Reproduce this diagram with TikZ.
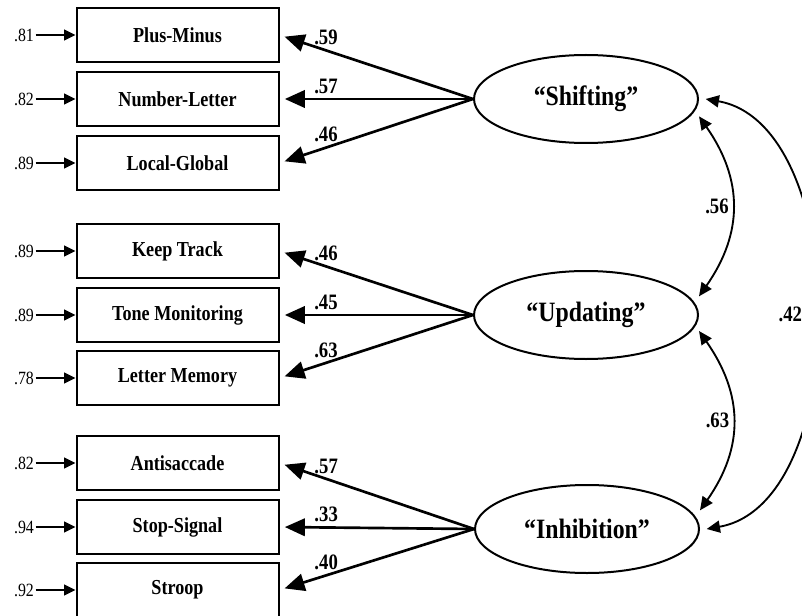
\documentclass[tikz,border=0pt]{standalone}
\usepackage{fontspec}
\setmainfont{Liberation Serif}[FakeStretch=0.85]
\usetikzlibrary{arrows.meta,shapes.geometric}

\begin{document}
\begin{tikzpicture}[x=0.75pt,y=0.75pt,
		task/.style={draw,line width=1.5pt,minimum width=151.5pt,minimum height=40.5pt,font=\fontsize{16}{19}\selectfont\bfseries},
		factor/.style={draw,ellipse,line width=1.5pt,minimum width=168pt,minimum height=66pt,font=\fontsize{21}{24}\selectfont\bfseries},
		errlabel/.style={inner sep=1pt,font=\fontsize{14}{16}\selectfont},
		coef/.style={inner sep=1pt,font=\fontsize{16.5}{19}\selectfont\bfseries},
		errarrow/.style={line width=1.5pt,-{Triangle[length=8.5pt,width=8pt]}},
		loading/.style={line width=2pt,-{Triangle[length=15pt,width=13pt]},shorten >=4pt},
		corr/.style={line width=1.4pt,{Triangle[length=10pt,width=9pt]}-{Triangle[length=10pt,width=9pt]}}]
		\useasboundingbox (0,0) rectangle (802,615);
		
		% latent factors
		\node[factor] (shift) at (586,516) {“Shifting”};
		\node[factor] (upd) at (586,300) {“Updating”};
		\node[factor] (inh) at (587,86) {“Inhibition”};
		
		% tasks
		\node[task] (pm) at (177.5,580) {Plus-Minus};
		\node[task] (nl) at (177.5,516) {Number-Letter};
		\node[task] (lg) at (177.5,452) {Local-Global};
		\node[task] (kt) at (177.5,364) {Keep Track};
		\node[task] (tm) at (177.5,300) {Tone Monitoring};
		\node[task] (lm) at (177.5,237) {Letter Memory};
		\node[task] (as) at (177.5,152) {Antisaccade};
		\node[task] (ss) at (177.5,88) {Stop-Signal};
		\node[task] (st) at (177.5,25) {Stroop};
		
		% error terms
		\node[errlabel] (e1) at (24,580) {.81};
		\node[errlabel] (e2) at (24,516) {.82};
		\node[errlabel] (e3) at (24,452) {.89};
		\node[errlabel] (e4) at (24,364) {.89};
		\node[errlabel] (e5) at (24,300) {.89};
		\node[errlabel] (e6) at (24,237) {.78};
		\node[errlabel] (e7) at (24,152) {.82};
		\node[errlabel] (e8) at (24,88) {.94};
		\node[errlabel] (e9) at (24,25) {.92};
		
		\draw[errarrow] (e1) -- (pm);
		\draw[errarrow] (e2) -- (nl);
		\draw[errarrow] (e3) -- (lg);
		\draw[errarrow] (e4) -- (kt);
		\draw[errarrow] (e5) -- (tm);
		\draw[errarrow] (e6) -- (lm);
		\draw[errarrow] (e7) -- (as);
		\draw[errarrow] (e8) -- (ss);
		\draw[errarrow] (e9) -- (st);
		
		% loadings
		\draw[loading] (shift.west) -- (pm.east) node[coef,pos=0.76,above=2pt] {.59};
		\draw[loading] (shift.west) -- (nl.east) node[coef,pos=0.76,above=2pt] {.57};
		\draw[loading] (shift.west) -- (lg.east) node[coef,pos=0.76,above=2pt] {.46};
		\draw[loading] (upd.west) -- (kt.east) node[coef,pos=0.76,above=2pt] {.46};
		\draw[loading] (upd.west) -- (tm.east) node[coef,pos=0.76,above=2pt] {.45};
		\draw[loading] (upd.west) -- (lm.east) node[coef,pos=0.76,above=2pt] {.63};
		\draw[loading] (inh.west) -- (as.east) node[coef,pos=0.76,above=2pt] {.57};
		\draw[loading] (inh.west) -- (ss.east) node[coef,pos=0.76,above=2pt] {.33};
		\draw[loading] (inh.west) -- (st.east) node[coef,pos=0.76,above=2pt] {.40};
		
		% correlations
		\draw[corr] ([yshift=-13pt]shift.east) to[out=-55,in=55,looseness=1.1] node[coef,left=1pt] {.56} ([yshift=14pt]upd.east);
		\draw[corr] ([yshift=-12pt]upd.east) to[out=-55,in=55,looseness=1.1] node[coef,left=1pt] {.63} ([yshift=14pt]inh.east);
		\draw[corr] ([xshift=5pt]shift.east) to[out=-10,in=10,looseness=0.885] node[coef,left=9pt] {.42} ([xshift=5pt]inh.east);
\end{tikzpicture}
\end{document}
